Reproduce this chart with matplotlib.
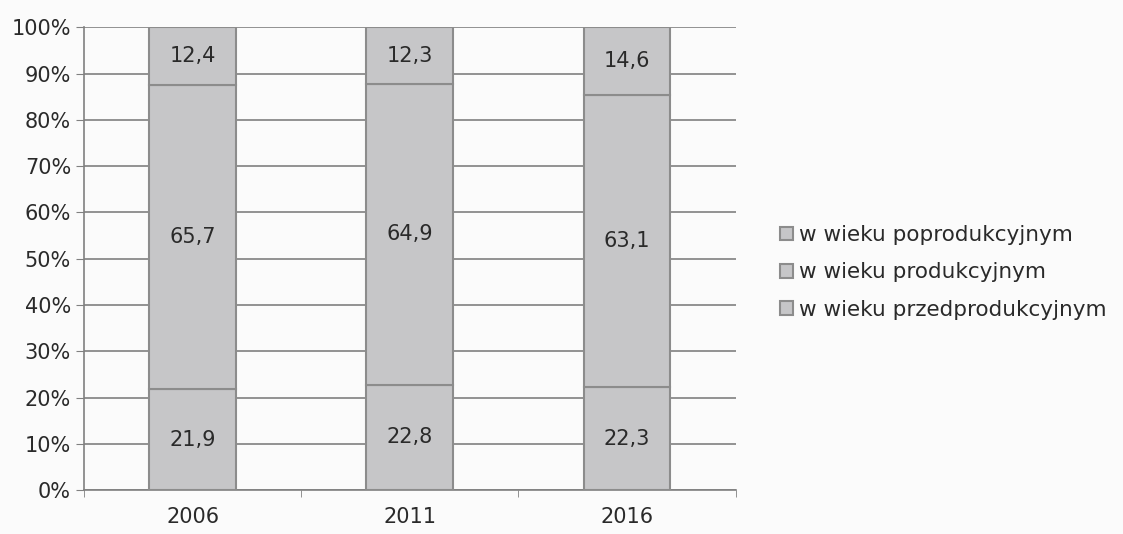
import matplotlib.pyplot as plt
import numpy as np
from matplotlib.ticker import FuncFormatter, MultipleLocator

plt.rcParams.update({
    "font.family": "DejaVu Sans",
    "font.size": 15,
})

years = ["2006", "2011", "2016"]
przed = [21.9, 22.8, 22.3]
prod = [65.7, 64.9, 63.1]
po = [12.4, 12.3, 14.6]
labels = ["w wieku przedprodukcyjnym", "w wieku produkcyjnym", "w wieku poprodukcyjnym"]

fill = "#c6c6c8"
edge = "#8c8c8c"
txt = "#2a2a2a"

fig = plt.figure(figsize=(11.23, 5.34), dpi=100)
fig.patch.set_facecolor("#fbfbfb")
ax = fig.add_axes([0.075, 0.082, 0.58, 0.867])
ax.set_facecolor("#fbfbfb")

x = np.arange(len(years))
w = 0.4
bottom = np.zeros(len(years))
handles = []
for vals, lab in zip([przed, prod, po], labels):
    bars = ax.bar(x, vals, w, bottom=bottom, color=fill, edgecolor=edge,
                  linewidth=1.5, zorder=3, label=lab)
    handles.append(bars)
    for xi, b, v in zip(x, bottom, vals):
        ax.text(xi, b + v / 2, f"{v:.1f}".replace(".", ","), ha="center",
                va="center", fontsize=15, color=txt, zorder=4)
    bottom += np.array(vals)

ax.set_xlim(-0.5, len(years) - 0.5)
ax.set_ylim(0, 100)
ax.yaxis.set_major_locator(MultipleLocator(10))
ax.yaxis.set_major_formatter(FuncFormatter(lambda v, p: f"{v:.0f}%"))
ax.grid(axis="y", color="#808080", linewidth=1.2, zorder=0)
ax.set_xticks(x)
ax.set_xticklabels(years)
ax.set_xticks(np.arange(len(years) + 1) - 0.5, minor=True)
ax.tick_params(axis="x", which="major", length=0, pad=12, labelsize=15, colors=txt)
ax.tick_params(axis="x", which="minor", length=5, color="#808080")
ax.tick_params(axis="y", length=6, color="#808080", labelsize=15, labelcolor=txt)
for s in ["top", "right"]:
    ax.spines[s].set_visible(False)
for s in ["left", "bottom"]:
    ax.spines[s].set_color("#808080")
    ax.spines[s].set_linewidth(1.2)

fig.legend([h[0] for h in handles[::-1]], labels[::-1], loc="center left",
           bbox_to_anchor=(0.685, 0.49), frameon=False, fontsize=15.5,
           handlelength=0.6, handleheight=0.6, handletextpad=0.3,
           labelspacing=0.8, labelcolor=txt, borderpad=0)

fig.savefig("out.png", dpi=100, facecolor=fig.get_facecolor())
